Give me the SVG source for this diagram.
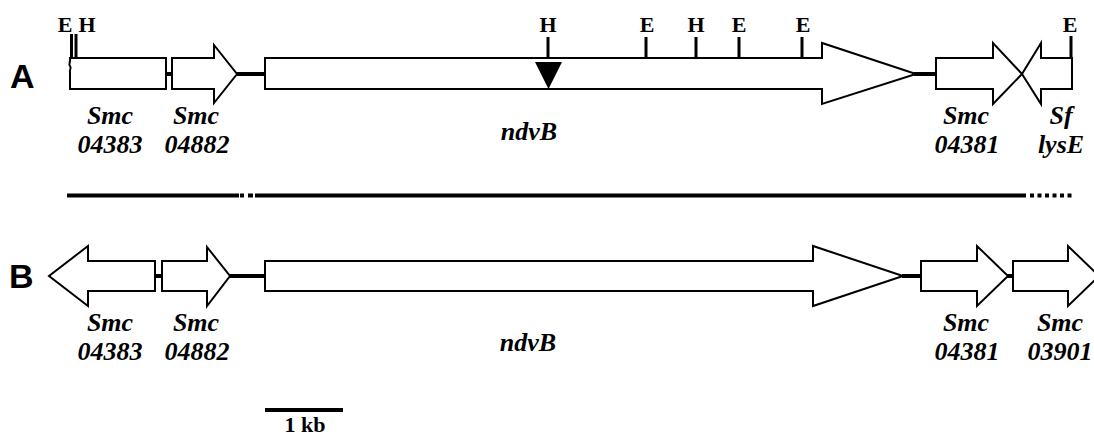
<svg xmlns="http://www.w3.org/2000/svg" width="1094" height="438" viewBox="0 0 1094 438">
<style>
.gene{fill:#fff;stroke:#000;stroke-width:2;stroke-linejoin:miter}
.link{stroke:#000;stroke-width:4;fill:none}
.tick{stroke:#000;stroke-width:3}
.lbl{font-family:"Liberation Serif",serif;font-weight:bold;font-style:italic;font-size:26px;text-anchor:middle;fill:#000}
.site{font-family:"Liberation Serif",serif;font-weight:bold;font-size:22px;text-anchor:middle;fill:#000}
.row{font-family:"Liberation Sans",Arial,sans-serif;font-weight:bold;font-size:34px;fill:#000}
</style>
<rect width="1094" height="438" fill="#fff"/>
<text class="row" x="10" y="88">A</text>
<text class="row" x="9" y="288">B</text>
<g id="connectors">
<line class="link" x1="166" y1="74" x2="172" y2="74"/>
<line class="link" x1="236" y1="74" x2="266" y2="74"/>
<line class="link" x1="914" y1="74" x2="937" y2="74"/>
<line class="link" x1="154" y1="276" x2="163" y2="276"/>
<line class="link" x1="229" y1="276" x2="266" y2="276"/>
<line class="link" x1="902" y1="276" x2="922" y2="276"/>
<line class="link" x1="1007" y1="276" x2="1014" y2="276"/>
<line class="link" x1="67" y1="195.5" x2="239" y2="195.5"/>
<line class="link" x1="240" y1="195.5" x2="244" y2="195.5"/>
<line class="link" x1="248" y1="195.5" x2="253" y2="195.5"/>
<line class="link" x1="255" y1="195.5" x2="1026" y2="195.5"/>
<line class="link" x1="1030" y1="195.5" x2="1075" y2="195.5" stroke-dasharray="4 3.5"/>
<line class="link" x1="265" y1="410" x2="343" y2="410"/>
</g>
<g id="rowA">
<g id="A_Smc04383">
<path class="gene" d="M70,58 H166 V89 H70 V72 C69,70 72,68 70,66 C68,64 71,62 70,58 Z"/>
<line class="tick" x1="71.5" y1="34" x2="71.5" y2="58"/>
<line class="tick" x1="76" y1="34" x2="76" y2="58"/>
<text class="site" x="65" y="32">E</text>
<text class="site" x="87" y="32">H</text>
<text class="lbl" x="110" y="124">Smc</text>
<text class="lbl" x="110" y="153">04383</text>
</g>
<g id="A_Smc04882">
<path class="gene" d="M172,58 H214 V45 L237,74 L214,103 V89 H172 Z"/>
<text class="lbl" x="196" y="124">Smc</text>
<text class="lbl" x="197" y="153">04882</text>
</g>
<g id="A_ndvB">
<path class="gene" d="M265,58 H822 V43 L916,74 L822,104 V89 H265 Z"/>
<polygon points="535,62 562,62 548.5,89" fill="#000"/>
<line class="tick" x1="548" y1="37" x2="548" y2="58"/>
<line class="tick" x1="646" y1="37" x2="646" y2="58"/>
<line class="tick" x1="696" y1="37" x2="696" y2="58"/>
<line class="tick" x1="739" y1="37" x2="739" y2="58"/>
<line class="tick" x1="802" y1="37" x2="802" y2="58"/>
<text class="site" x="548" y="32">H</text>
<text class="site" x="647" y="32">E</text>
<text class="site" x="696" y="32">H</text>
<text class="site" x="739" y="32">E</text>
<text class="site" x="803" y="32">E</text>
<text class="lbl" x="529" y="140">ndvB</text>
</g>
<g id="A_Smc04381">
<path class="gene" d="M936,58 H993 V43 L1022,74 L993,104 V89 H936 Z"/>
<text class="lbl" x="966" y="124">Smc</text>
<text class="lbl" x="967" y="153">04381</text>
</g>
<g id="A_SflysE">
<path class="gene" d="M1072,58 H1041 V43 L1022,74 L1041,104 V89 H1072 Z"/>
<line class="tick" x1="1071" y1="36" x2="1071" y2="58"/>
<text class="site" x="1070" y="32">E</text>
<text class="lbl" x="1061" y="124">Sf</text>
<text class="lbl" x="1061" y="153">lysE</text>
</g>
</g>
<g id="rowB">
<g id="B_Smc04383">
<path class="gene" d="M155,261 H88 V246 L49,276 L88,306 V291 H155 Z"/>
<text class="lbl" x="110" y="331">Smc</text>
<text class="lbl" x="110" y="360">04383</text>
</g>
<g id="B_Smc04882">
<path class="gene" d="M162,261 H207 V247 L230,276 L207,306 V291 H162 Z"/>
<text class="lbl" x="196" y="331">Smc</text>
<text class="lbl" x="197" y="360">04882</text>
</g>
<g id="B_ndvB">
<path class="gene" d="M265,261 H813 V246 L903,276 L813,306 V291 H265 Z"/>
<text class="lbl" x="528" y="351">ndvB</text>
</g>
<g id="B_Smc04381">
<path class="gene" d="M921,261 H977 V246 L1008,276 L977,306 V291 H921 Z"/>
<text class="lbl" x="966" y="331">Smc</text>
<text class="lbl" x="967" y="360">04381</text>
</g>
<g id="B_Smc03901">
<path class="gene" d="M1013,261 H1068 V246 L1099,276 L1068,306 V291 H1013 Z"/>
<text class="lbl" x="1060" y="331">Smc</text>
<text class="lbl" x="1060" y="360">03901</text>
</g>
</g>
<text class="site" x="305" y="432">1 kb</text>
</svg>
